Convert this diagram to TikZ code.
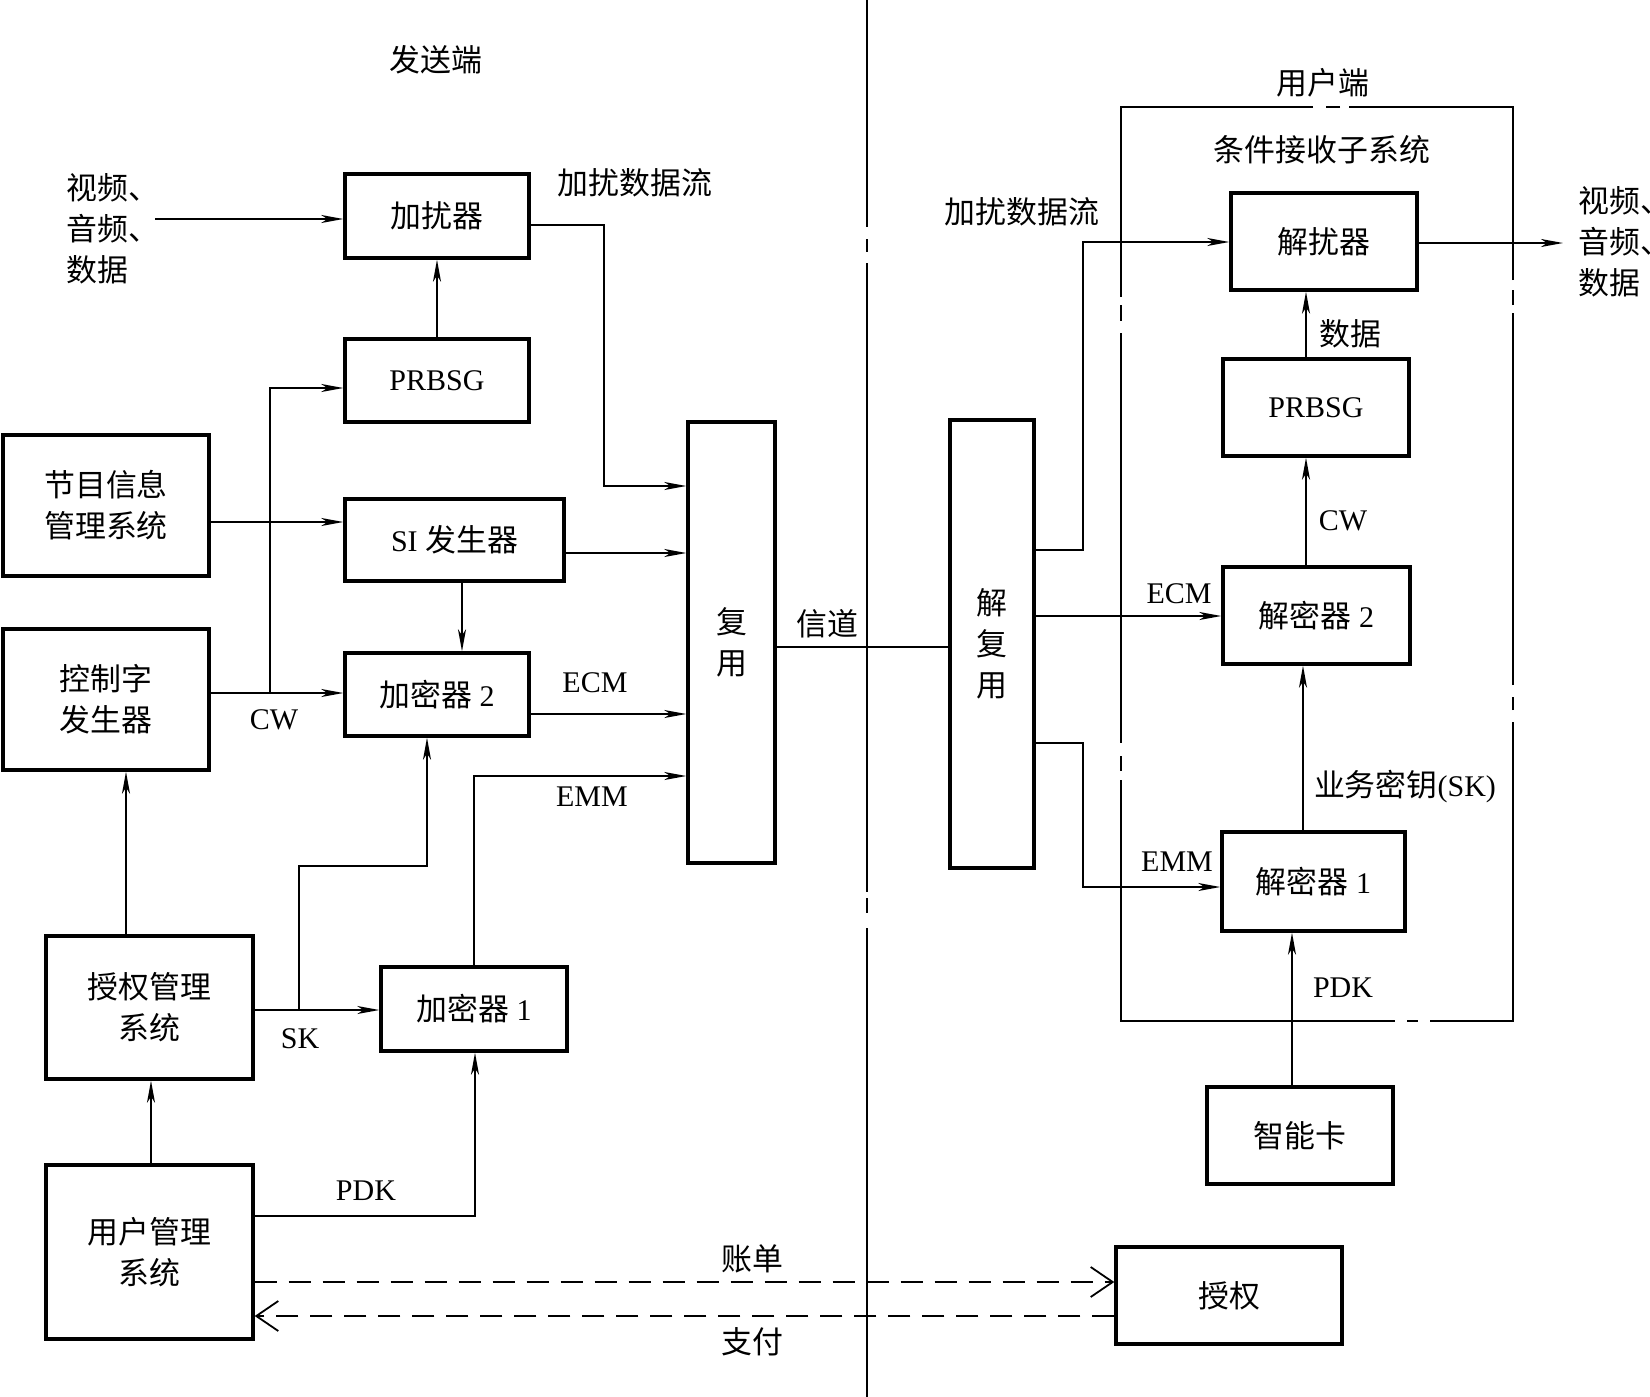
\documentclass[tikz,border=0pt]{standalone}
\usepackage{fontspec}
\setmainfont{Liberation Serif}
\newfontfamily\cjk{Noto Sans CJK SC}[Scale=1.03]
\usetikzlibrary{arrows.meta}
\begin{document}
\begin{tikzpicture}[x=0.5pt,y=-0.5pt,
  font=\fontsize{15}{20.5}\selectfont,
  box/.style={draw, line width=1.7pt, inner sep=0pt, align=center},
  conn/.style={line width=0.9pt},
  arr/.style={conn, -{Stealth[length=11pt,width=4pt,inset=3pt]}},
  dsh/.style={line width=0.9pt, dash pattern=on 11pt off 6pt},
  oarr/.style={dsh, -{Straight Barb[length=11pt,width=15pt,line width=0.9pt]}},
  lbl/.style={inner sep=0pt, align=center},
  divl/.style={line width=1.1pt},
  outl/.style={line width=1pt}
]
\useasboundingbox (0,0) rectangle (1650,1397);
\fill[white] (0,0) rectangle (1650,1397);

% ---------- sender boxes ----------
\node[box, minimum width=92pt, minimum height=42pt] (scr) at (437,216) {\cjk 加扰器};
\node[box, minimum width=92pt, minimum height=41.5pt] (prbsL) at (437,380.5) {PRBSG};
\node[box, minimum width=109.5pt, minimum height=41pt] (siL) at (454.5,540) {SI {\cjk 发生器}};
\node[box, minimum width=92pt, minimum height=41.5pt] (enc2) at (437,694.5) {{\cjk 加密器} 2};
\node[box, minimum width=93pt, minimum height=42pt] (enc1) at (474,1009) {{\cjk 加密器} 1};
\node[box, minimum width=43.5pt, minimum height=220.5pt] (mux) at (731.5,642.5) {\cjk 复\\\cjk 用};
\node[box, minimum width=103pt, minimum height=70.5pt] (prog) at (106,505.5) {\cjk 节目信息\\\cjk 管理系统};
\node[box, minimum width=103pt, minimum height=70.5pt] (cwgen) at (106,699.5) {\cjk 控制字\\\cjk 发生器};
\node[box, minimum width=103.5pt, minimum height=71.5pt] (auth) at (149.5,1007.5) {\cjk 授权管理\\\cjk 系统};
\node[box, minimum width=103.5pt, minimum height=87pt] (user) at (149.5,1252) {\cjk 用户管理\\\cjk 系统};

% ---------- receiver boxes ----------
\node[box, minimum width=42pt, minimum height=224pt] (demux) at (992,644) {\cjk 解\\\cjk 复\\\cjk 用};
\node[box, minimum width=93pt, minimum height=48.5pt] (descr) at (1324,241.5) {\cjk 解扰器};
\node[box, minimum width=93pt, minimum height=48.5pt] (prbsR) at (1316,407.5) {PRBSG};
\node[box, minimum width=93.5pt, minimum height=48.5pt] (dec2) at (1316.5,615.5) {{\cjk 解密器} 2};
\node[box, minimum width=91.5pt, minimum height=49.5pt] (dec1) at (1313.5,881.5) {{\cjk 解密器} 1};
\node[box, minimum width=93pt, minimum height=48.5pt] (card) at (1300,1135.5) {\cjk 智能卡};
\node[box, minimum width=113pt, minimum height=48.5pt] (grant) at (1229,1295.5) {\cjk 授权};

% ---------- divider (dash-dot) ----------
\draw[divl] (867,0) -- (867,227);
\draw[divl] (867,239) -- (867,252);
\draw[divl] (867,263) -- (867,892);
\draw[divl] (867,898) -- (867,913);
\draw[divl] (867,928) -- (867,1397);

% ---------- user-side frame (dash-dot) ----------
\draw[outl] (1313,107) -- (1121,107) -- (1121,297);
\draw[outl] (1121,305) -- (1121,321);
\draw[outl] (1121,333) -- (1121,743);
\draw[outl] (1121,756) -- (1121,771);
\draw[outl] (1121,780) -- (1121,1021) -- (1395,1021);
\draw[outl] (1407,1021) -- (1418,1021);
\draw[outl] (1430,1021) -- (1513,1021) -- (1513,722);
\draw[outl] (1513,710) -- (1513,697);
\draw[outl] (1513,685) -- (1513,313);
\draw[outl] (1513,305) -- (1513,290);
\draw[outl] (1513,280) -- (1513,107) -- (1349,107);
\draw[outl] (1340,107) -- (1326,107);

% ---------- sender connectors ----------
\coordinate (vin) at (155,219);
\draw[arr] (vin) -- (vin -| scr.west);
\coordinate (a1) at (604,225);
\coordinate (a2) at (604,486);
\draw[arr] (a1 -| scr.east) -- (a1) -- (a2) -- (a2 -| mux.west);
\draw[arr] (prbsL.north) -- (scr.south);
\coordinate (cw1) at (270,693);
\coordinate (cw2) at (270,388);
\draw[arr] (cw1 -| cwgen.east) -- (cw1 -| enc2.west);
\draw[arr] (cw1) -- (cw2) -- (cw2 -| prbsL.west);
\coordinate (p1) at (0,522);
\draw[arr] (p1 -| prog.east) -- (p1 -| siL.west);
\coordinate (s1) at (0,553);
\draw[arr] (s1 -| siL.east) -- (s1 -| mux.west);
\coordinate (s2) at (462,0);
\draw[arr] (s2 |- siL.south) -- (s2 |- enc2.north);
\coordinate (e2) at (0,714);
\draw[arr] (e2 -| enc2.east) -- (e2 -| mux.west);
\coordinate (m1) at (474,776);
\draw[arr] (m1 |- enc1.north) -- (m1) -- (m1 -| mux.west);
\coordinate (k1) at (299,1010);
\coordinate (k2) at (299,866);
\coordinate (k3) at (427,866);
\draw[arr] (k1 -| auth.east) -- (k1 -| enc1.west);
\draw[arr] (k1) -- (k2) -- (k3) -- (k3 |- enc2.south);
\coordinate (u1) at (126,0);
\draw[arr] (u1 |- auth.north) -- (u1 |- cwgen.south);
\coordinate (u2) at (151,0);
\draw[arr] (u2 |- user.north) -- (u2 |- auth.south);
\coordinate (d1) at (475,1216);
\draw[arr] (d1 -| user.east) -- (d1) -- (d1 |- enc1.south);
\coordinate (b1) at (0,1282);
\coordinate (b2) at (0,1316);
\draw[oarr] (b1 -| user.east) -- (b1 -| grant.west);
\draw[oarr] (b2 -| grant.west) -- (b2 -| user.east);

% ---------- channel ----------
\coordinate (ch) at (0,647);
\draw[conn] (ch -| mux.east) -- (ch -| demux.west);

% ---------- receiver connectors ----------
\coordinate (r1) at (1083,550);
\coordinate (r2) at (1083,242);
\draw[arr] (r1 -| demux.east) -- (r1) -- (r2) -- (r2 -| descr.west);
\coordinate (r3) at (0,616);
\draw[arr] (r3 -| demux.east) -- (r3 -| dec2.west);
\coordinate (r4) at (1083,743);
\coordinate (r5) at (1083,887);
\draw[arr] (r4 -| demux.east) -- (r4) -- (r5) -- (r5 -| dec1.west);
\coordinate (v1) at (1303,0);
\draw[arr] (v1 |- dec1.north) -- (v1 |- dec2.south);
\coordinate (v2) at (1306,0);
\draw[arr] (v2 |- dec2.north) -- (v2 |- prbsR.south);
\draw[arr] (v2 |- prbsR.north) -- (v2 |- descr.south);
\coordinate (v3) at (1292,0);
\draw[arr] (v3 |- card.north) -- (v3 |- dec1.south);
\coordinate (o1) at (1563,243);
\draw[arr] (o1 -| descr.east) -- (o1);

% ---------- labels ----------
\node[lbl] (tSend) at (436,60) {\cjk 发送端};
\node[lbl, align=left, anchor=west] (tIn) at (66,229) {\cjk 视频、\\\cjk 音频、\\\cjk 数据};
\node[lbl] (tScrL) at (635,183) {\cjk 加扰数据流};
\node[lbl] (tCWL) at (274,720) {CW};
\node[lbl] (tECML) at (595,683) {ECM};
\node[lbl] (tEMML) at (592,797) {EMM};
\node[lbl] (tSK) at (300,1039) {SK};
\node[lbl] (tPDKL) at (366,1191) {PDK};
\node[lbl] (tBill) at (752,1259) {\cjk 账单};
\node[lbl] (tPay) at (752,1342) {\cjk 支付};
\node[lbl] (tCh) at (827,624) {\cjk 信道};
\node[lbl] (tUser) at (1323,83) {\cjk 用户端};
\node[lbl] (tCAS) at (1322,150) {\cjk 条件接收子系统};
\node[lbl] (tScrR) at (1022,212) {\cjk 加扰数据流};
\node[lbl] (tData) at (1350,334) {\cjk 数据};
\node[lbl] (tCWR) at (1343,521) {CW};
\node[lbl] (tECMR) at (1179,594) {ECM};
\node[lbl] (tSKR) at (1405,787) {{\cjk 业务密钥}(SK)};
\node[lbl] (tEMMR) at (1177,862) {EMM};
\node[lbl] (tPDKR) at (1343,988) {PDK};
\node[lbl, align=left, anchor=west] (tOut) at (1578,242) {\cjk 视频、\\\cjk 音频、\\\cjk 数据};
\end{tikzpicture}
\end{document}
